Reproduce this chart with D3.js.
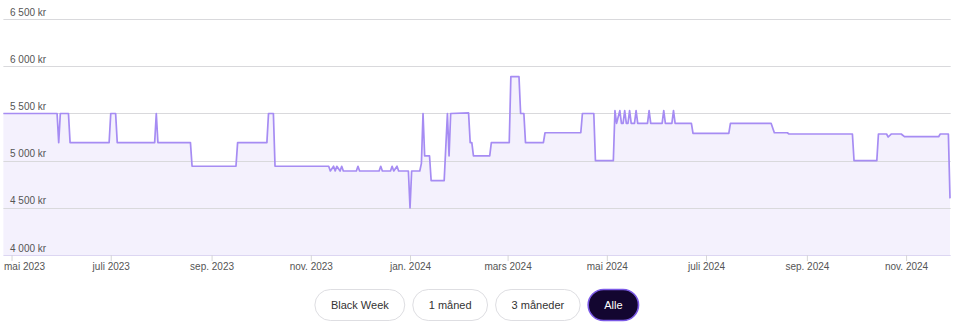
<!DOCTYPE html>
<html><head><meta charset="utf-8">
<script src="https://cdn.jsdelivr.net/npm/d3@7"></script>
<style>
body{margin:0;background:#fff;}
svg{display:block;font-family:"Liberation Sans",Arial,Helvetica,sans-serif;}
</style>
</head><body>
<svg id="chart" width="960" height="334"></svg>
<script>
// ---- data ----
const dates = ["2023-04-26","2023-05-29","2023-05-30","2023-05-31","2023-06-05","2023-06-06","2023-06-30","2023-07-01","2023-07-04","2023-07-05","2023-07-28","2023-07-29","2023-07-30","2023-08-19","2023-08-20","2023-09-16","2023-09-17","2023-10-05","2023-10-06","2023-10-09","2023-10-10","2023-11-12","2023-11-13","2023-11-15","2023-11-16","2023-11-17","2023-11-19","2023-11-20","2023-11-21","2023-11-29","2023-11-30","2023-12-01","2023-12-13","2023-12-14","2023-12-15","2023-12-20","2023-12-21","2023-12-22","2023-12-24","2023-12-25","2023-12-31","2024-01-01","2024-01-02","2024-01-07","2024-01-08","2024-01-09","2024-01-10","2024-01-13","2024-01-14","2024-01-22","2024-01-24","2024-01-25","2024-01-26","2024-02-06","2024-02-07","2024-02-08","2024-02-09","2024-02-19","2024-02-20","2024-03-02","2024-03-03","2024-03-08","2024-03-09","2024-03-11","2024-03-12","2024-03-23","2024-03-24","2024-04-15","2024-04-16","2024-04-23","2024-04-24","2024-05-05","2024-05-06","2024-05-07","2024-05-09","2024-05-10","2024-05-11","2024-05-12","2024-05-13","2024-05-14","2024-05-15","2024-05-16","2024-05-18","2024-05-19","2024-05-20","2024-05-26","2024-05-27","2024-05-28","2024-06-04","2024-06-05","2024-06-06","2024-06-10","2024-06-11","2024-06-12","2024-06-22","2024-06-23","2024-07-15","2024-07-16","2024-08-10","2024-08-12","2024-08-20","2024-08-21","2024-09-29","2024-09-30","2024-10-14","2024-10-15","2024-10-20","2024-10-21","2024-10-23","2024-10-29","2024-10-31","2024-11-21","2024-11-22","2024-11-27","2024-11-28"];
const prices = [5499,5499,5190,5499,5499,5190,5190,5499,5499,5190,5190,5499,5190,5190,4940,4940,5190,5190,5499,5499,4940,4940,4890,4940,4890,4940,4890,4940,4890,4890,4940,4890,4890,4940,4890,4890,4940,4890,4940,4890,4890,4499,4890,4890,4970,5499,5049,5049,4787,4787,5499,5049,5499,5505,5190,5190,5049,5049,5190,5190,5889,5889,5499,5499,5190,5190,5295,5295,5499,5499,4999,4999,5529,5395,5529,5395,5395,5529,5395,5395,5529,5395,5395,5529,5395,5395,5529,5395,5395,5529,5395,5395,5529,5395,5395,5289,5289,5395,5395,5295,5295,5282,5282,4999,4999,5282,5282,5250,5282,5282,5253,5253,5282,5282,4600];

const yTicks = [4000,4500,5000,5500,6000,6500];
const yTickLabels = ["4 000 kr","4 500 kr","5 000 kr","5 500 kr","6 000 kr","6 500 kr"];
const xTickDates = ["2023-05-01","2023-07-01","2023-09-01","2023-11-01","2024-01-01","2024-03-01","2024-05-01","2024-07-01","2024-09-01","2024-11-01"];
const xTickLabels = ["mai 2023","juli 2023","sep. 2023","nov. 2023","jan. 2024","mars 2024","mai 2024","juli 2024","sep. 2024","nov. 2024"];
const buttonLabels = ["Black Week","1 måned","3 måneder","Alle"];
const activeButton = "Alle";

// ---- chart ----
(function(){
const parse = d3.utcParse("%Y-%m-%d");
const data = dates.map((d,i)=>({date:parse(d), price:prices[i]}));
const svg = d3.select("#chart");

const mLeft = 3.4, mRight = 950, mTop = 19, mBottom = 255;
const x = d3.scaleUtc().domain(d3.extent(data,d=>d.date)).range([mLeft,mRight]);
const y = d3.scaleLinear().domain([4000,6500]).range([mBottom,mTop]);

// area fill
svg.append("path").datum(data)
  .attr("fill","#f4f1fd")
  .attr("d", d3.area().x(d=>x(d.date)).y0(y(4000)).y1(d=>y(d.price)));

// gridlines + y labels
const gy = svg.append("g");
yTicks.forEach((t,i)=>{
  gy.append("line").attr("x1",mLeft).attr("x2",mRight+0.7)
    .attr("y1",Math.round(y(t))+0.5).attr("y2",Math.round(y(t))+0.5)
    .attr("stroke", t===4000 ? "#dcd6f2" : "#d9d9dc").attr("stroke-width",1);
  gy.append("text").attr("x",10).attr("y",y(t)-3.5)
    .attr("font-size",10).attr("fill","#555").text(yTickLabels[i]);
});

// x axis
const xAxis = d3.axisBottom(x)
  .tickValues(xTickDates.map(parse))
  .tickFormat((d,i)=>xTickLabels[i])
  .tickSizeInner(6).tickSizeOuter(0).tickPadding(2);
const gx = svg.append("g").attr("transform",`translate(0,${mBottom})`).call(xAxis);
gx.select(".domain").remove();
gx.selectAll(".tick line").attr("stroke","#d6d6da");
gx.selectAll(".tick text").attr("font-size",10).attr("fill","#555")
  .attr("font-family","Liberation Sans,Arial,sans-serif");
gx.selectAll(".tick text").each(function(){
  const w = this.getComputedTextLength();
  const tr = this.parentNode.getAttribute("transform");
  const tx = +tr.match(/translate\(([-\d.]+)/)[1];
  if (tx - w/2 < 4) d3.select(this).attr("x", 4 + w/2 - tx);
});

// price line
svg.append("path").datum(data)
  .attr("fill","none").attr("stroke","#a68cf3").attr("stroke-width",1.7)
  .attr("stroke-linejoin","round")
  .attr("d", d3.line().x(d=>x(d.date)).y(d=>y(d.price)));

// buttons
const pad = 16, gap = 8, bh = 31, by = 289.5, fs = 11;
const bg = svg.append("g");
const tmp = bg.append("text").attr("font-size",fs);
const widths = buttonLabels.map(l=>{ tmp.text(l); return tmp.node().getComputedTextLength() + 2*pad; });
tmp.remove();
const total = d3.sum(widths) + gap*(widths.length-1);
let bx = (mLeft+mRight)/2 - total/2;
buttonLabels.forEach((l,i)=>{
  const act = l===activeButton;
  const g = bg.append("g").attr("transform",`translate(${bx},${by})`);
  g.append("rect").attr("width",widths[i]).attr("height",bh).attr("rx",bh/2)
    .attr("fill", act ? "#130630" : "#fff")
    .attr("stroke", act ? "#7b5ae6" : "#dedee2").attr("stroke-width", act?1.6:1);
  g.append("text").attr("x",widths[i]/2).attr("y",bh/2+4).attr("text-anchor","middle")
    .attr("font-size",fs).attr("fill", act ? "#fff" : "#333").text(l);
  bx += widths[i] + gap;
});
})();
</script>
</body></html>
